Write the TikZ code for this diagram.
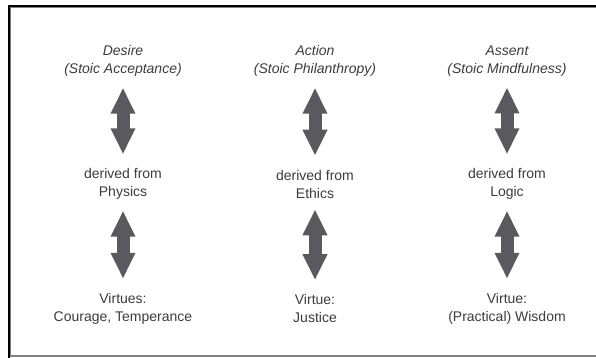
\documentclass[tikz,border=0pt]{standalone}
\usepackage{fontspec}
\setmainfont{Liberation Sans}
\usetikzlibrary{arrows.meta}

\definecolor{arrowgray}{RGB}{90,90,94}
\definecolor{textgray}{RGB}{60,60,60}

\tikzset{
  label text/.style={align=center, inner sep=0pt, text=textgray,
      font=\fontsize{14}{18}\selectfont},
  big arrow/.style={draw=arrowgray, line width=13pt,
      {Triangle[width=23pt,length=26pt]}-{Triangle[width=23pt,length=26pt]}},
}

\begin{document}
\begin{tikzpicture}[x=1pt,y=-1pt]
  \useasboundingbox (0,0) rectangle (596,358);

  % frame, open on the right
  \draw[line width=1.8pt] (9,358) -- (9,6) -- (596,6);
  \draw[gray, line width=1.2pt] (596,356) -- (10.8,356) -- (10.8,7.6) -- (596,7.6);

  \foreach \x/\name/\toptext/\midtext/\lowtext in {
      123/des/{\itshape Desire\\\itshape (Stoic Acceptance)}/{derived from\\Physics}/{Virtues:\\Courage, Temperance},
      315/act/{\itshape Action\\\itshape (Stoic Philanthropy)}/{derived from\\Ethics}/{Virtue:\\Justice},
      507/ass/{\itshape Assent\\\itshape (Stoic Mindfulness)}/{derived from\\Logic}/{Virtue:\\(Practical) Wisdom}}
  {
    \node[label text] (top-\name) at (\x,61) {\toptext};
    \node[label text] (mid-\name) at (\x,184) {\midtext};
    \node[label text] (low-\name) at (\x,308.5) {\lowtext};

    \draw[big arrow, shorten <=11pt, shorten >=14pt] (top-\name) -- (mid-\name);
    \draw[big arrow, shorten <=11pt, shorten >=14pt] (mid-\name) -- (low-\name);
  }
\end{tikzpicture}
\end{document}
